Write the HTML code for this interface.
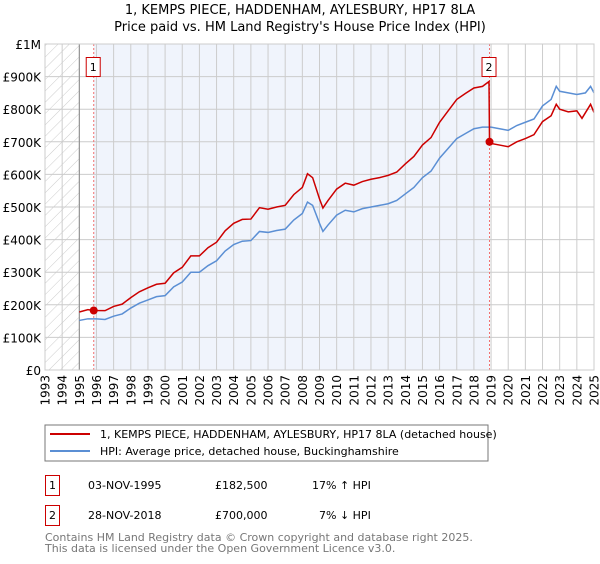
<!DOCTYPE html>
<html><head><meta charset="utf-8"><style>
body{margin:0;background:#fff;font-family:"DejaVu Sans","Liberation Sans",sans-serif;}
svg text{font-family:"DejaVu Sans","Liberation Sans",sans-serif;}
</style></head><body>
<svg id="c" width="600" height="560" xmlns="http://www.w3.org/2000/svg">
<defs><pattern id="hatch" width="8" height="8" patternUnits="userSpaceOnUse" patternTransform="rotate(45)"><line x1="0" y1="0" x2="0" y2="8" stroke="#ccc" stroke-width="1"/></pattern></defs>
<text x="300" y="14" text-anchor="middle" font-size="13">1, KEMPS PIECE, HADDENHAM, AYLESBURY, HP17 8LA</text>
<text x="300" y="31" text-anchor="middle" font-size="13">Price paid vs. HM Land Registry's House Price Index (HPI)</text>
<g id="plot"></g>
<rect x="45" y="425" width="443" height="36" fill="#fff" stroke="#777"/>
<line x1="50" y1="434" x2="90" y2="434" stroke="#cc0000" stroke-width="2"/>
<text x="100" y="438" font-size="11">1, KEMPS PIECE, HADDENHAM, AYLESBURY, HP17 8LA (detached house)</text>
<line x1="50" y1="451" x2="90" y2="451" stroke="#5b8fd4" stroke-width="2"/>
<text x="100" y="455" font-size="11">HPI: Average price, detached house, Buckinghamshire</text>
<g font-size="11">
<rect x="45.5" y="475.5" width="14" height="20" fill="#fff" stroke="#cc0000"/>
<text x="52.5" y="489" text-anchor="middle">1</text>
<text x="88" y="489">03-NOV-1995</text>
<text x="215" y="489">£182,500</text>
<text x="312" y="489">17% ↑ HPI</text>
<rect x="45.5" y="505.5" width="14" height="20" fill="#fff" stroke="#cc0000"/>
<text x="52.5" y="519" text-anchor="middle">2</text>
<text x="88" y="519">28-NOV-2018</text>
<text x="215" y="519">£700,000</text>
<text x="319" y="519">7% ↓ HPI</text>
</g>
<text x="45" y="541" font-size="11" fill="#777">Contains HM Land Registry data © Crown copyright and database right 2025.</text>
<text x="45" y="552" font-size="11" fill="#777">This data is licensed under the Open Government Licence v3.0.</text>
</svg>
<script>
const yTicks=[0,100,200,300,400,500,600,700,800,900,1000];
const yTickLabels=["£0","£100K","£200K","£300K","£400K","£500K","£600K","£700K","£800K","£900K","£1M"];
const xYears=[1993,1994,1995,1996,1997,1998,1999,2000,2001,2002,2003,2004,2005,2006,2007,2008,2009,2010,2011,2012,2013,2014,2015,2016,2017,2018,2019,2020,2021,2022,2023,2024,2025];
const hpiT=[1995,1995.5,1996,1996.5,1997,1997.5,1998,1998.5,1999,1999.5,2000,2000.5,2001,2001.5,2002,2002.5,2003,2003.5,2004,2004.5,2005,2005.5,2006,2006.5,2007,2007.5,2008,2008.3,2008.6,2009,2009.2,2009.5,2010,2010.5,2011,2011.5,2012,2012.5,2013,2013.5,2014,2014.5,2015,2015.5,2016,2016.5,2017,2017.5,2018,2018.5,2018.9,2019,2019.5,2020,2020.5,2021,2021.5,2022,2022.5,2022.8,2023,2023.5,2024,2024.5,2024.8,2025];
const hpiV=[152,157,157,155,165,172,190,205,215,225,228,255,270,300,300,320,335,365,385,395,397,425,422,428,432,460,480,515,505,450,425,445,475,490,485,495,500,505,510,520,540,560,590,610,650,680,710,725,740,745,745,745,740,735,750,760,770,810,830,870,855,850,845,850,870,850];
const priceT=[1995,1995.5,1995.84,1996.5,1997,1997.5,1998,1998.5,1999,1999.5,2000,2000.5,2001,2001.5,2002,2002.5,2003,2003.5,2004,2004.5,2005,2005.5,2006,2006.5,2007,2007.5,2008,2008.3,2008.6,2009,2009.2,2009.5,2010,2010.5,2011,2011.5,2012,2012.5,2013,2013.5,2014,2014.5,2015,2015.5,2016,2016.5,2017,2017.5,2018,2018.5,2018.88,2018.91,2019,2019.5,2020,2020.5,2021,2021.5,2022,2022.5,2022.8,2023,2023.5,2024,2024.3,2024.8,2025];
const priceV=[178,185,182.5,182,195,202,222,240,252,263,266,298,315,350,350,375,392,427,450,462,463,498,493,500,505,538,560,602,590,525,497,520,555,573,567,578,585,590,597,607,632,655,690,713,760,795,830,848,865,870,885,700,695,690,685,700,710,722,762,780,815,800,792,795,772,815,790];
const salesT=[1995.84,2018.91];
const salesV=[182.5,700];
const salesLabel=["1","2"];
const X0=45,X1=594,Y0=370,Y1=44;
const x=t=>X0+(t-1993)/(2025-1993)*(X1-X0);
const y=v=>Y0-v/1000*(Y0-Y1);
const NS="http://www.w3.org/2000/svg";
const g=document.getElementById('plot');
function mk(tag,attrs){const e=document.createElementNS(NS,tag);for(const k in attrs)e.setAttribute(k,attrs[k]);g.appendChild(e);return e;}
let e;
e=mk('rect',{x:X0,y:Y1,width:X1-X0,height:Y0-Y1,fill:'#fff'});


e=mk('rect',{x:x(1993),y:Y1,width:x(1995)-x(1993),height:Y0-Y1,fill:'url(#hatch)'});


e=mk('rect',{x:x(salesT[0]),y:Y1,width:x(salesT[1])-x(salesT[0]),height:Y0-Y1,fill:'#f0f4fc'});


yTicks.forEach((v,i)=>{
 e=mk('line',{x1:X0,x2:X1,y1:y(v),y2:y(v),stroke:'#ccc','stroke-width':1});
 
 
 e=mk('text',{x:X0-4,y:y(v)+5,'text-anchor':'end','font-size':12});
 e.textContent=yTickLabels[i];
 
 
});
xYears.forEach(t=>{
 e=mk('line',{x1:x(t),x2:x(t),y1:Y1,y2:Y0,stroke:'#ccc','stroke-width':1});
 
 
 e=mk('text',{x:0,y:0,'text-anchor':'end','font-size':12,transform:`translate(${x(t)+4.5},${Y0+5}) rotate(-90)`});
 e.textContent=String(t);
 
 
});
e=mk('line',{x1:x(1995),x2:x(1995),y1:Y1,y2:Y0,stroke:'#888'});


salesT.forEach((t,i)=>{
 e=mk('line',{x1:x(t),x2:x(t),y1:Y1,y2:Y0,stroke:'#f07070','stroke-dasharray':'2,2'});
 
 
});
e=mk('polyline',{points:hpiT.map((t,i)=>x(t)+','+y(hpiV[i])).join(' '),fill:'none',stroke:'#5b8fd4','stroke-width':1.5});


e=mk('polyline',{points:priceT.map((t,i)=>x(t)+','+y(priceV[i])).join(' '),fill:'none',stroke:'#cc0000','stroke-width':1.5});


salesT.forEach((t,i)=>{
 e=mk('circle',{cx:x(t),cy:y(salesV[i]),r:4,fill:'#cc0000'});
 
 
 e=mk('rect',{x:x(t)-7.5,y:57.5,width:14,height:19,fill:'#fff',stroke:'#cc0000'});
 
 
 e=mk('text',{x:x(t)-0.5,y:71,'text-anchor':'middle','font-size':11});
 e.textContent=salesLabel[i];
 
 
});
e=mk('rect',{x:X0,y:Y1,width:X1-X0,height:Y0-Y1,fill:'none',stroke:'#ccc'});


</script>
</body></html>
